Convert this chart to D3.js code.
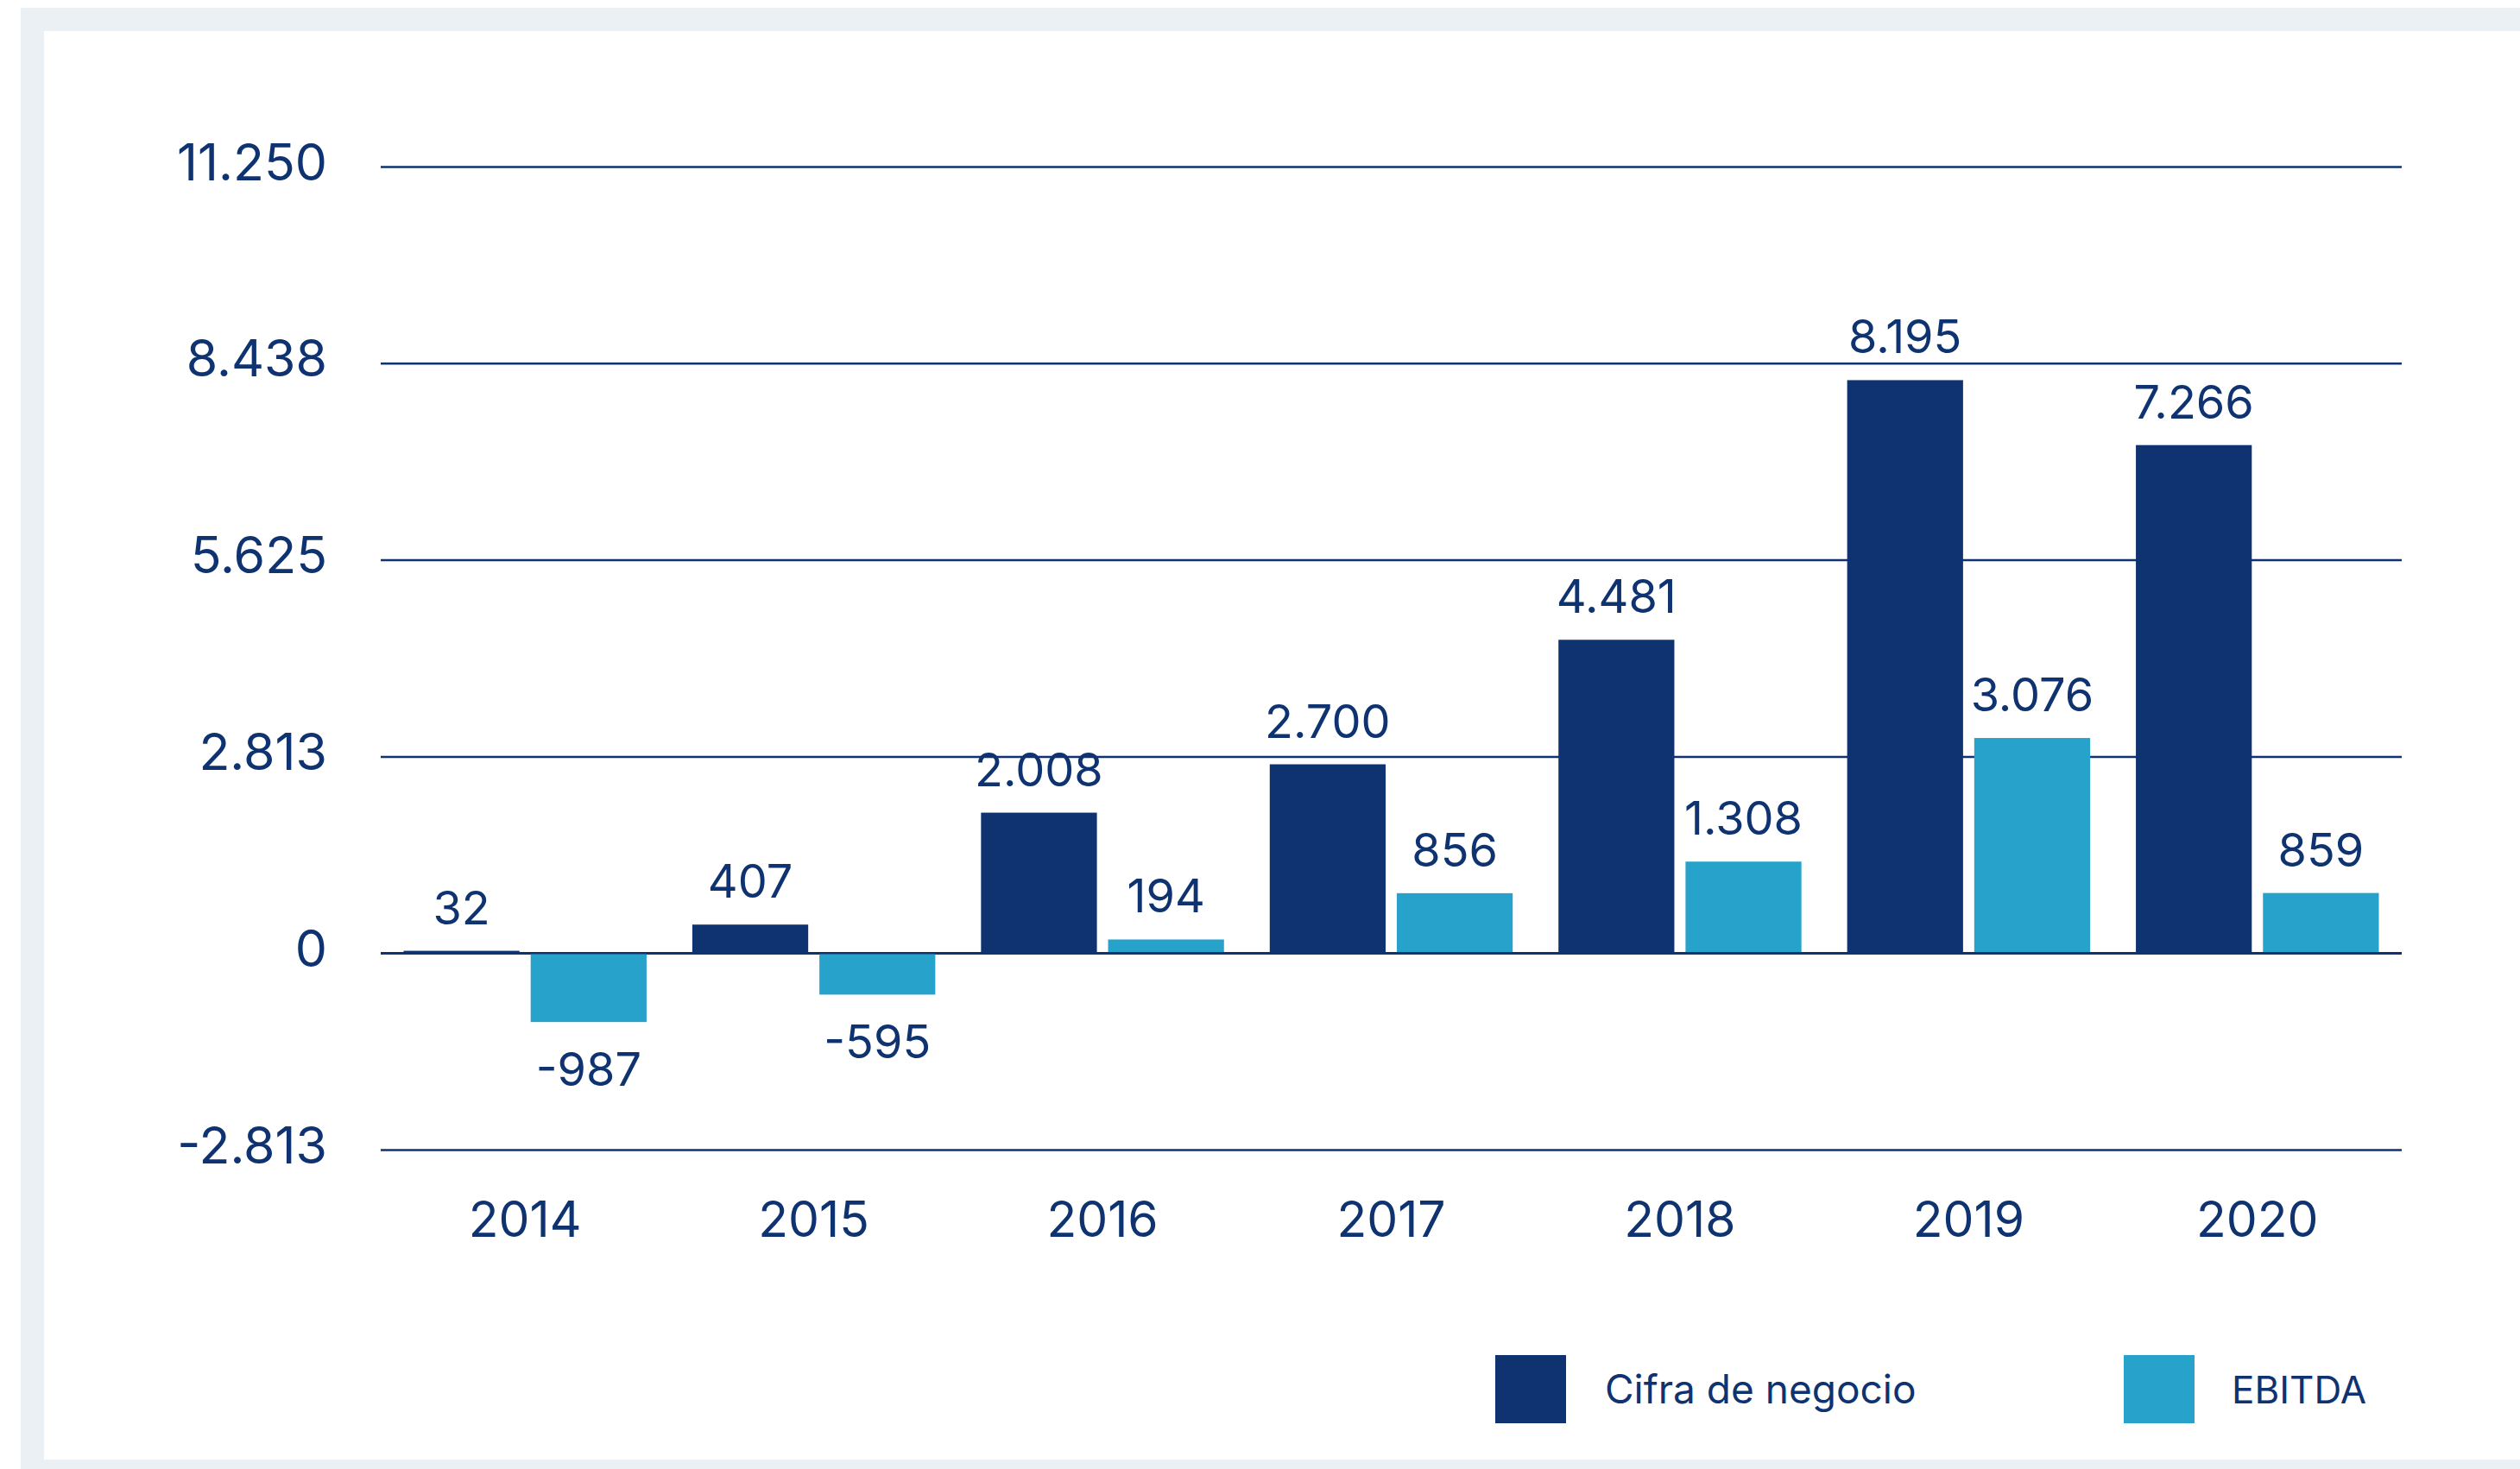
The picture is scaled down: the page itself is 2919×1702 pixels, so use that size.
<!DOCTYPE html>
<html>
<head>
<meta charset="utf-8">
<script src="https://cdn.jsdelivr.net/npm/d3@7"></script>
<style>
  html, body { margin: 0; padding: 0; background: #ffffff; }
  svg { display: block; }
  text { font-family: Inter, "Noto Sans", sans-serif; fill: #0e3370; }
</style>
</head>
<body>
<script>
var years = ["2014", "2015", "2016", "2017", "2018", "2019", "2020"];
var cifraNegocio = [32, 407, 2008, 2700, 4481, 8195, 7266];
var ebitda = [-987, -595, 194, 856, 1308, 3076, 859];
var seriesNames = ["Cifra de negocio", "EBITDA"];
var yTickValues = [-2812.5, 0, 2812.5, 5625, 8437.5, 11250];
var yTickLabels = ["-2.813", "0", "2.813", "5.625", "8.438", "11.250"];

var WIDTH = 2919;
var HEIGHT = 1702;
var NAVY = "#0e3370";
var BLUE = "#27a2cb";
var colors = [NAVY, BLUE];

var esLocale = d3.formatLocale({decimal: ",", thousands: ".", grouping: [3], currency: ["", "€"], minus: "-"});
var fmt = esLocale.format(",d");

var translate = function (x, y) {
  return "translate(" + x + "," + y + ")";
};

var rows = years.map(function (y, i) {
  return {year: y, values: [cifraNegocio[i], ebitda[i]]};
});

var xScale = d3.scaleBand()
  .domain(years)
  .range([441, 2782])
  .padding(0);

var x1 = d3.scaleBand()
  .domain([0, 1])
  .range([0, xScale.bandwidth()])
  .paddingInner(0.088)
  .paddingOuter(0.18);

var yScale = d3.scaleLinear()
  .domain([-2812.5, 11250])
  .range([1332, 193]);

var draw = function () {
  var svg = d3.select("body").append("svg")
    .attr("width", WIDTH)
    .attr("height", HEIGHT);

  // frame
  svg.append("rect")
    .attr("x", 24).attr("y", 9)
    .attr("width", WIDTH - 24).attr("height", HEIGHT - 9)
    .attr("fill", "#ebf0f4");
  svg.append("rect")
    .attr("x", 51).attr("y", 36)
    .attr("width", WIDTH - 51).attr("height", 1691 - 36)
    .attr("fill", "#ffffff");

  // gridlines + y labels
  var yAxis = d3.axisLeft(yScale)
    .tickValues(yTickValues)
    .tickSize(-(2782 - 441))
    .tickFormat(function (d, i) { return yTickLabels[i]; });

  var gy = svg.append("g")
    .attr("transform", translate(441, 0))
    .call(yAxis);
  gy.select(".domain").remove();
  gy.selectAll(".tick line")
    .attr("stroke", NAVY)
    .attr("stroke-width", 2.5);
  gy.selectAll(".tick text")
    .attr("x", -62)
    .attr("dy", 15)
    .attr("font-size", 59)
    .attr("fill", NAVY)
    .style("font-family", "Inter, sans-serif");

  // bars
  var groups = svg.append("g").selectAll("g")
    .data(rows)
    .enter()
    .append("g")
    .attr("transform", function (d) { return translate(xScale(d.year), 0); });

  groups.selectAll("rect")
    .data(function (d) { return d.values; })
    .enter()
    .append("rect")
    .attr("x", function (d, i) { return x1(i); })
    .attr("width", x1.bandwidth())
    .attr("y", function (d) { return yScale(Math.max(0, d)); })
    .attr("height", function (d) { return Math.abs(yScale(d) - yScale(0)); })
    .attr("fill", function (d, i) { return colors[i]; });

  groups.selectAll("text")
    .data(function (d) { return d.values; })
    .enter()
    .append("text")
    .attr("x", function (d, i) { return x1(i) + x1.bandwidth() / 2; })
    .attr("y", function (d) { return d >= 0 ? yScale(d) - 31 : yScale(d) + 74; })
    .attr("text-anchor", "middle")
    .attr("font-size", 54)
    .text(function (d) { return fmt(d); });

  // zero line on top
  svg.append("line")
    .attr("x1", 441).attr("x2", 2782)
    .attr("y1", yScale(0)).attr("y2", yScale(0))
    .attr("stroke", NAVY)
    .attr("stroke-width", 2.5);

  // x labels
  var xAxis = d3.axisBottom(xScale).tickSize(0);
  var gx = svg.append("g")
    .attr("transform", translate(0, 1433))
    .call(xAxis);
  gx.select(".domain").remove();
  gx.selectAll(".tick text")
    .attr("y", 0)
    .attr("dy", 0)
    .attr("font-size", 57)
    .attr("fill", NAVY)
    .style("font-family", "Inter, sans-serif");

  // legend
  var legendX = [1732, 2460];
  var legend = svg.append("g").selectAll("g")
    .data(seriesNames)
    .enter()
    .append("g")
    .attr("transform", function (d, i) { return translate(legendX[i], 1570); });
  legend.append("rect")
    .attr("width", 82)
    .attr("height", 79)
    .attr("fill", function (d, i) { return colors[i]; });
  legend.append("text")
    .attr("x", function (d, i) { return i === 0 ? 127 : 125; })
    .attr("y", 56)
    .attr("font-size", function (d, i) { return i === 0 ? 46 : 44; })
    .text(function (d) { return d; });
};

window.onload = draw;
</script>
</body>
</html>
